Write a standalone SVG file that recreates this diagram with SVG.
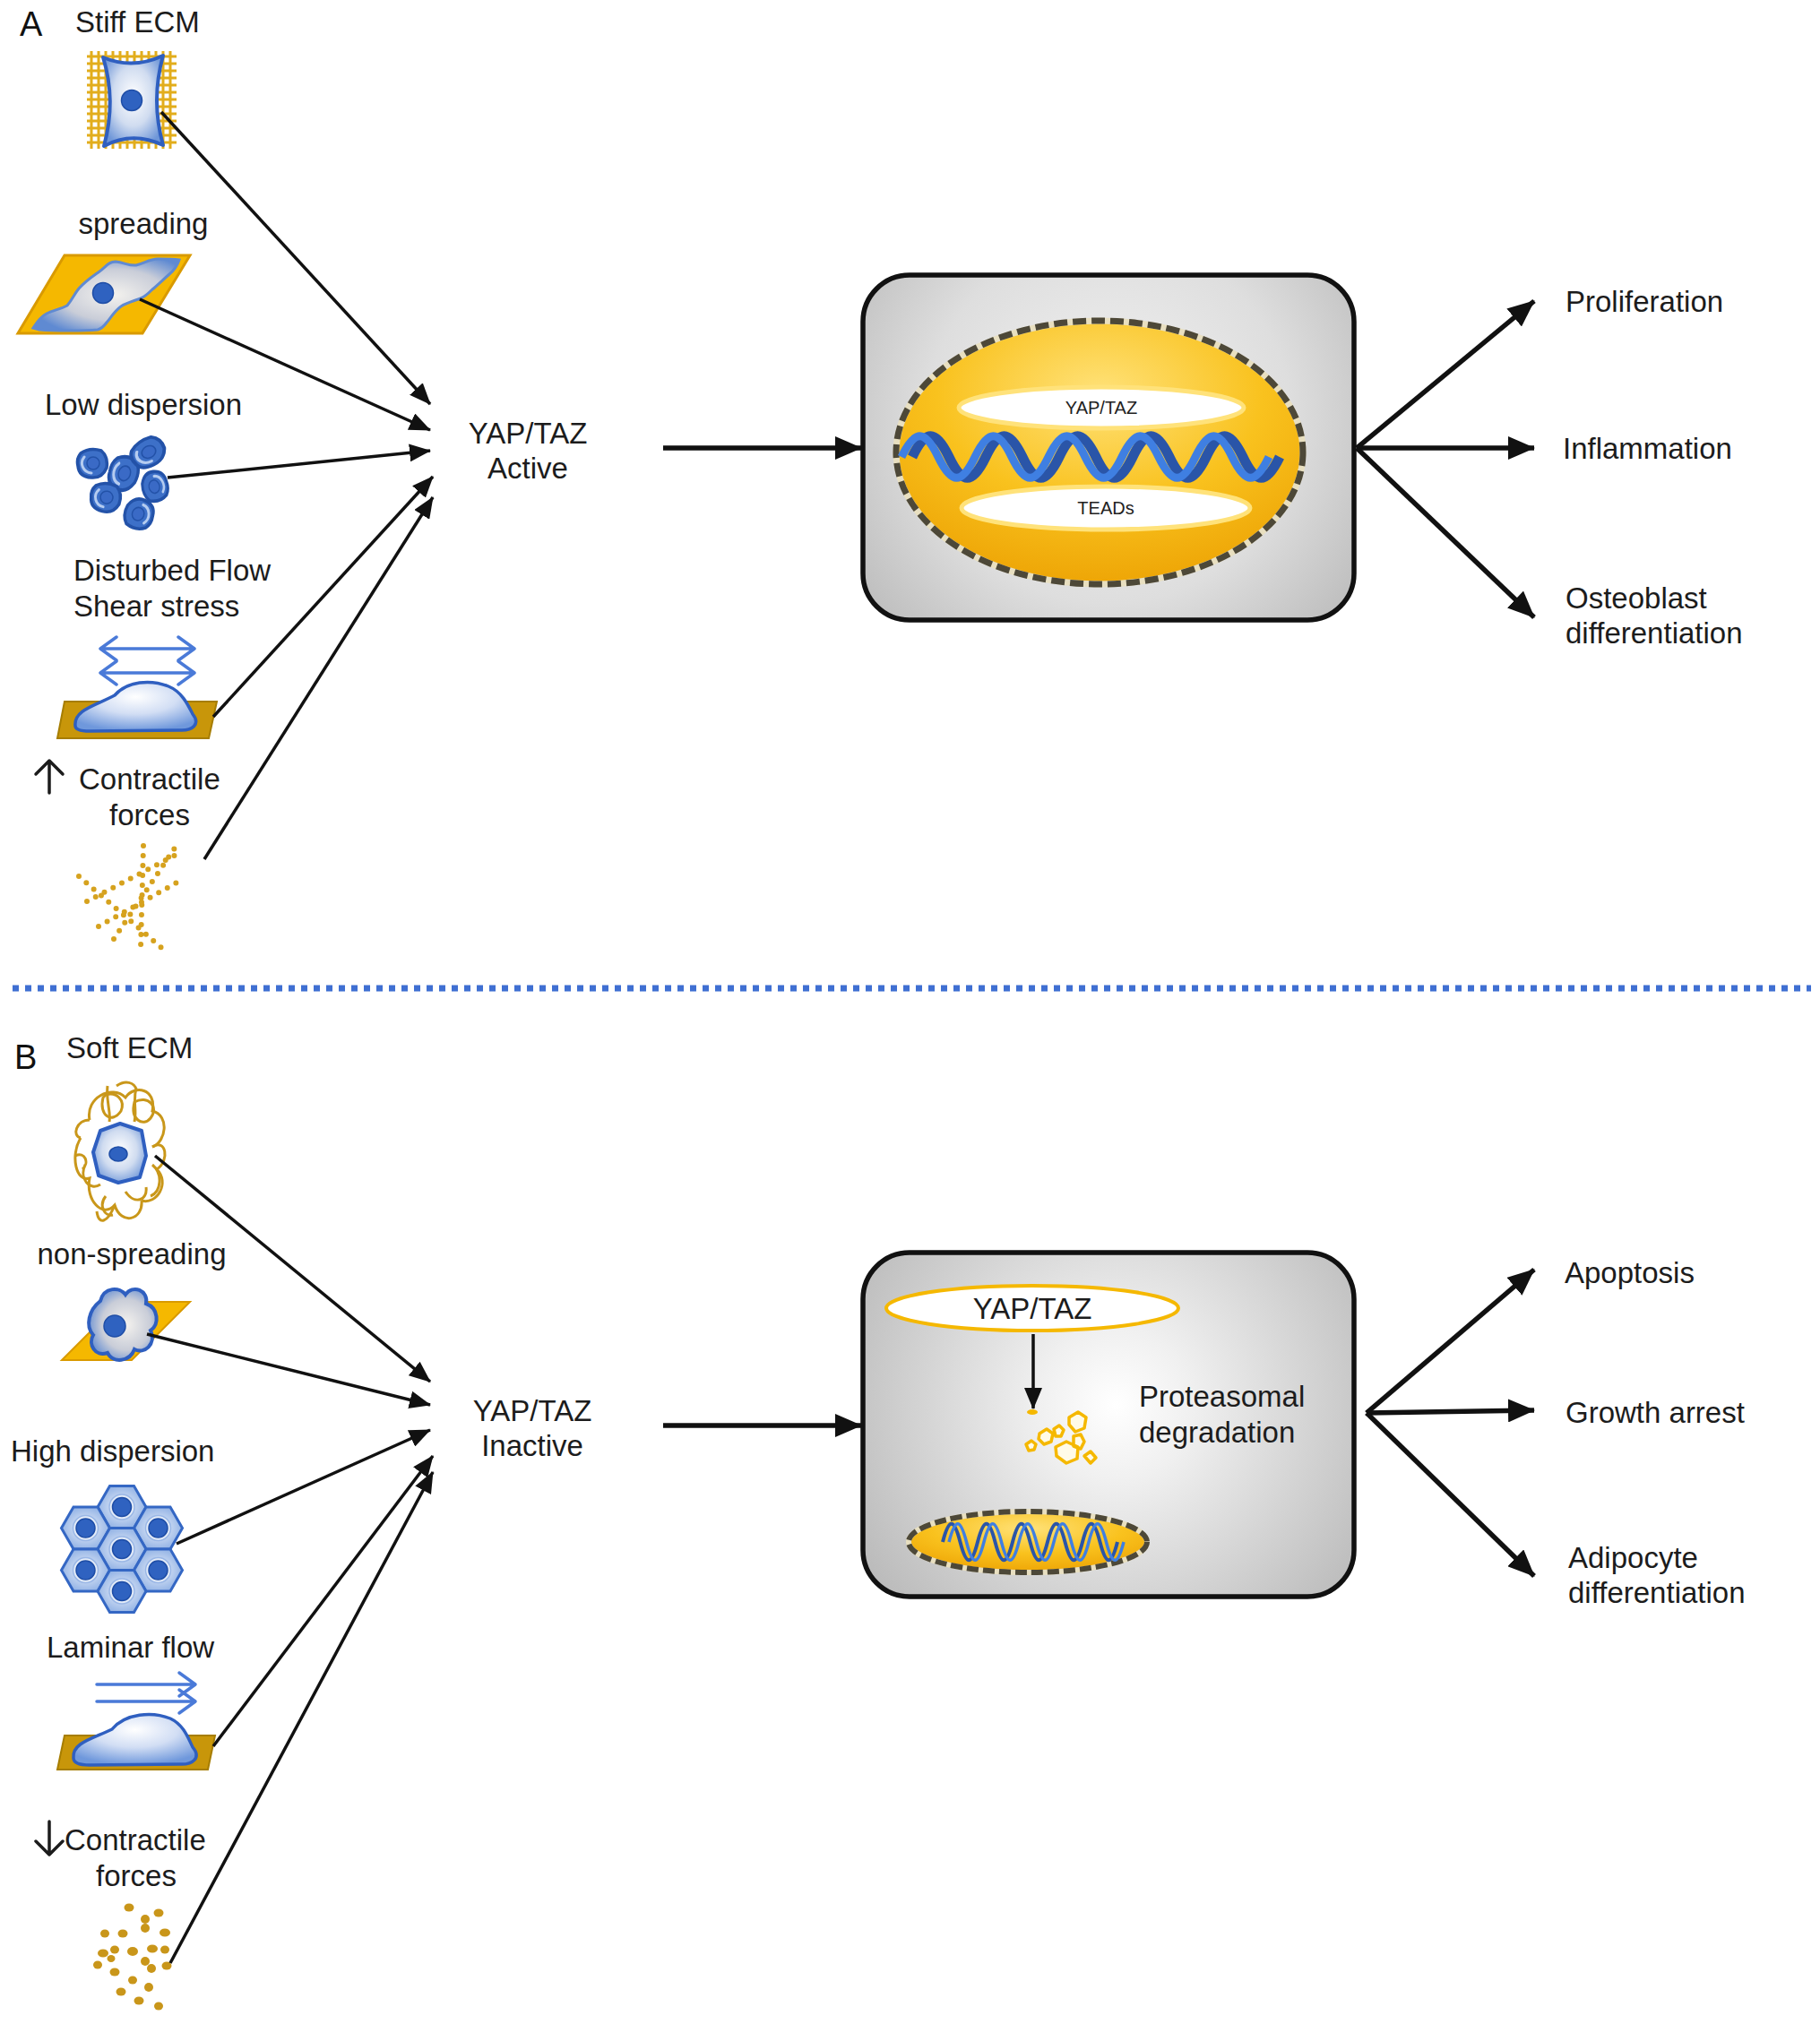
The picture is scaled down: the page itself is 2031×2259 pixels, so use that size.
<svg xmlns="http://www.w3.org/2000/svg" xmlns:xlink="http://www.w3.org/1999/xlink" width="2031" height="2259" viewBox="0 0 2031 2259">
<style>
.t{font-family:"Liberation Sans",Arial,sans-serif;font-size:33px;fill:#1c1c1c}
.ts{font-family:"Liberation Sans",Arial,sans-serif;font-size:20px;fill:#222}
.big{font-family:"Liberation Sans",Arial,sans-serif;font-size:38px;fill:#111}
.in{stroke:#111;stroke-width:3.5;fill:none;marker-end:url(#ah)}
.out{stroke:#111;stroke-width:5.5;fill:none;marker-end:url(#ahb)}
.box{stroke:#111;stroke-width:5.5}
.grid{stroke:#e2ad1c;stroke-width:3}
.flow{stroke:#4a7ad8;stroke-width:3.5;fill:none;stroke-linecap:round;stroke-linejoin:round}
.dots{stroke:#d6a21e;stroke-width:6;stroke-dasharray:0 11;stroke-linecap:round;fill:none}
.tangle{stroke:#c9971a;stroke-width:3;fill:none}
.frag{stroke:#f5b800;stroke-width:3.5;fill:#fffbe8;stroke-linejoin:round}
.nuc{fill:#2f62c0;stroke:#1e4da6;stroke-width:1.5}
.dna1{stroke:#2a55a8;fill:none}
.dna2{stroke:#3f7fe2;fill:none}
.blob{fill:#c9961a}
.sym{stroke:#1c1c1c;stroke-width:3.5;fill:none;stroke-linecap:round;stroke-linejoin:round}
</style>
<defs>
<marker id="ah" markerUnits="userSpaceOnUse" markerWidth="24" markerHeight="20" viewBox="0 0 24 20" refX="23" refY="10" orient="auto"><path d="M0,0 L24,10 L0,20 z" fill="#111"/></marker>
<marker id="ahb" markerUnits="userSpaceOnUse" markerWidth="30" markerHeight="26" viewBox="0 0 30 26" refX="29" refY="13" orient="auto"><path d="M0,0 L30,13 L0,26 z" fill="#111"/></marker>
<radialGradient id="gBoxA" gradientUnits="userSpaceOnUse" cx="1237" cy="470" r="340"><stop offset="0" stop-color="#f3f3f3"/><stop offset="0.6" stop-color="#dedede"/><stop offset="1" stop-color="#bdbdbd"/></radialGradient>
<radialGradient id="gBoxB" gradientUnits="userSpaceOnUse" cx="1245" cy="1568" r="340"><stop offset="0" stop-color="#ffffff"/><stop offset="0.25" stop-color="#f0f0f0"/><stop offset="1" stop-color="#b9b9b9"/></radialGradient>
<radialGradient id="gNuc" cx="0.5" cy="0.28" r="0.8"><stop offset="0" stop-color="#ffe27a"/><stop offset="0.5" stop-color="#f9c21e"/><stop offset="1" stop-color="#eb9e00"/></radialGradient>
<radialGradient id="gCell" cx="0.5" cy="0.45" r="0.6"><stop offset="0" stop-color="#ffffff"/><stop offset="0.55" stop-color="#d0dcf0"/><stop offset="1" stop-color="#6e96d8"/></radialGradient>
<radialGradient id="gCell2" cx="0.55" cy="0.5" r="0.6"><stop offset="0" stop-color="#f4f2ee"/><stop offset="0.6" stop-color="#c9cdd8"/><stop offset="1" stop-color="#5f8ad2"/></radialGradient>
<radialGradient id="gDome" cx="0.5" cy="0.3" r="0.7"><stop offset="0" stop-color="#ffffff"/><stop offset="0.5" stop-color="#d2def4"/><stop offset="1" stop-color="#6f98dc"/></radialGradient>
<radialGradient id="gHex" cx="0.5" cy="0.5" r="0.55"><stop offset="0" stop-color="#eef3fb"/><stop offset="1" stop-color="#8fb0e4"/></radialGradient>
<g id="hex"><polygon points="27,0 13.5,23.4 -13.5,23.4 -27,0 -13.5,-23.4 13.5,-23.4" fill="url(#gHex)" stroke="#3467c4" stroke-width="3"/><circle r="14" fill="#e4ecf8" stroke="#9ab7e6" stroke-width="1.5"/><circle r="10.5" class="nuc"/></g>
<g id="lc"><path d="M-13,-11 Q-3,-18 10,-14 Q18,-7 16,5 Q11,17 -1,16 Q-15,15 -16,3 Q-18,-5 -13,-11 Z" fill="#3d70c8" stroke="#2352a8" stroke-width="3.5" stroke-linejoin="round"/><path d="M-9,-7 A11,11 0 0 0 -1,11" stroke="#b5ccf0" stroke-width="3" fill="none" stroke-linecap="round"/><circle cx="1" cy="0" r="7" fill="#3a6ac6" stroke="#2352a8" stroke-width="1.5"/></g>
</defs>
<rect width="2031" height="2259" fill="#ffffff"/>

<!-- Panel A -->
<g id="labelA"><text class="big" x="22" y="40">A</text></g>

<g id="stiffECM">
<text class="t" x="84" y="36">Stiff ECM</text>
<path class="grid" d="M102,57V166M110,57V166M118,57V166M126,57V166M134,57V166M142,57V166M150,57V166M158,57V166M166,57V166M174,57V166M182,57V166M190,57V166"/>
<path class="grid" d="M97,63H197M97,71H197M97,79H197M97,87H197M97,95H197M97,103H197M97,111H197M97,119H197M97,127H197M97,135H197M97,143H197M97,151H197M97,159H197"/>
<path d="M115,64 Q148,78 182,62 Q168,112 182,162 Q148,146 116,163 Q130,112 115,64 Z" fill="url(#gCell)" stroke="#2f5fc0" stroke-width="4" stroke-linejoin="round"/>
<circle cx="147" cy="112" r="11.5" class="nuc"/>
</g>

<g id="spreading">
<text class="t" x="160" y="261" text-anchor="middle">spreading</text>
<polygon points="72,285 212,285 159,372 20,372" fill="#f5b800" stroke="#d99a00" stroke-width="3"/>
<path d="M37,366 C42,358 46,353 52,350 C60,346 68,345 75,341 C81,334 83,328 88,322 C96,313 104,308 111,303 C118,298 121,292 129,292 C139,293 144,297 152,296 C161,294 167,289 176,289 C185,289 192,289 200,290 C198,296 195,301 189,306 C181,313 175,319 170,323 C165,328 162,331 157,333 C149,336 141,338 135,342 C128,347 124,354 119,360 C116,364 113,367 109,368 C98,369 88,369 78,369 C66,369 55,369 44,368 Z" fill="url(#gCell2)" stroke="#5f8ad2" stroke-width="3"/>
<circle cx="115" cy="327" r="11.5" class="nuc"/>
</g>

<g id="lowDispersion">
<text class="t" x="160" y="463" text-anchor="middle">Low dispersion</text>
<use xlink:href="#lc" href="#lc" transform="translate(103,517)"/>
<use xlink:href="#lc" href="#lc" transform="translate(138,528) rotate(20) scale(0.95,1.2)"/>
<use xlink:href="#lc" href="#lc" transform="translate(165,505) rotate(-30) scale(1.15,0.95)"/>
<use xlink:href="#lc" href="#lc" transform="translate(173,543) rotate(170) scale(0.85,1.05)"/>
<use xlink:href="#lc" href="#lc" transform="translate(118,555) rotate(10)"/>
<use xlink:href="#lc" href="#lc" transform="translate(155,574) rotate(200) scale(0.95,1.05)"/>
</g>

<g id="disturbedFlow">
<text class="t" x="82" y="648">Disturbed Flow</text>
<text class="t" x="82" y="688">Shear stress</text>
<path class="flow" d="M112,724H217M130,711L112,724L130,737M199,711L217,724L199,737M112,751H217M130,738L112,751L130,764M199,738L217,751L199,764"/>
<polygon points="72,783 242,783 233,824 64,824" fill="#c8960a" stroke="#a67d00" stroke-width="2"/>
<path d="M84,810 C82,792 108,787 128,776 C142,760 168,758 188,766 C203,772 210,787 215,797 C224,808 215,816 200,815 L100,816 C90,816 84,814 84,810 Z" fill="url(#gDome)" stroke="#2f5fc0" stroke-width="3.5"/>
</g>

<g id="contractileUp">
<path class="sym" d="M55,885V849M40,864L55,849L70,864"/>
<text class="t" x="88" y="881">Contractile</text>
<text class="t" x="167" y="921" text-anchor="middle">forces</text>
<path class="dots" d="M160,944L157,1058M88,978L184,1061M97,1006L204,950M127,1048L198,942M110,1034L201,983"/>
</g>

<g id="yapActive">
<text class="t" x="589" y="495" text-anchor="middle">YAP/TAZ</text>
<text class="t" x="589" y="534" text-anchor="middle">Active</text>
</g>

<g id="nucleusBoxA">
<rect x="963" y="307" width="548" height="385" rx="52" fill="url(#gBoxA)" class="box"/>
<ellipse cx="1227" cy="505" rx="227" ry="147" fill="url(#gNuc)"/>
<ellipse cx="1227" cy="505" rx="227" ry="147" fill="none" stroke="#e8dfc0" stroke-width="7"/>
<ellipse cx="1227" cy="505" rx="227" ry="147" fill="none" stroke="#4d4838" stroke-width="7" stroke-dasharray="15 6"/>
<ellipse cx="1229" cy="455" rx="159" ry="23" fill="#ffffff" stroke="#ffe27a" stroke-width="5"/>
<ellipse cx="1234" cy="567" rx="161" ry="24" fill="#ffffff" stroke="#ffe27a" stroke-width="5"/>
<text class="ts" x="1229" y="462" text-anchor="middle">YAP/TAZ</text>
<text class="ts" x="1234" y="574" text-anchor="middle">TEADs</text>
<path class="dna1" stroke-width="11" d="M1018,510 C1033,479 1044,479 1059,510 S1085,541 1100,510 S1126,479 1141,510 S1167,541 1182,510 S1208,479 1223,510 S1249,541 1264,510 S1290,479 1305,510 S1331,541 1346,510 S1372,479 1387,510 S1413,541 1428,510"/>
<path class="dna2" stroke-width="9" d="M1006,510 C1021,479 1032,479 1047,510 S1073,541 1088,510 S1114,479 1129,510 S1155,541 1170,510 S1196,479 1211,510 S1237,541 1252,510 S1278,479 1293,510 S1319,541 1334,510 S1360,479 1375,510 S1401,541 1416,510"/>
</g>

<g id="outcomesA">
<text class="t" x="1747" y="348">Proliferation</text>
<text class="t" x="1744" y="512">Inflammation</text>
<text class="t" x="1747" y="679">Osteoblast</text>
<text class="t" x="1747" y="718">differentiation</text>
</g>

<!-- divider -->
<g id="divider"><line x1="14" y1="1103" x2="2021" y2="1103" stroke="#3f6fd2" stroke-width="7" stroke-dasharray="7 7"/></g>

<!-- Panel B -->
<g id="labelB"><text class="big" x="16" y="1193">B</text></g>

<g id="softECM">
<text class="t" x="74" y="1181">Soft ECM</text>
<path class="tangle" d="M100,1250 C95,1225 125,1210 140,1225 C150,1210 175,1215 170,1240 C190,1245 185,1275 170,1280"/>
<path class="tangle" d="M90,1270 C78,1290 85,1320 100,1315 C95,1340 115,1360 128,1345 C135,1368 160,1362 158,1340"/>
<path class="tangle" d="M158,1340 C175,1345 190,1320 175,1305 C190,1295 185,1270 170,1280"/>
<path class="tangle" d="M100,1250 C85,1250 80,1268 90,1270"/>
<path class="tangle" d="M115,1225 C110,1245 125,1255 135,1240 C140,1228 130,1218 118,1222 Z"/>
<path class="tangle" d="M150,1230 C165,1222 178,1235 168,1248 C160,1258 145,1250 150,1230 Z"/>
<path class="tangle" d="M95,1300 C88,1315 100,1330 112,1322 M140,1330 C150,1345 165,1340 163,1325 M128,1345 C120,1365 110,1368 108,1352 M120,1212 C118,1230 124,1240 122,1252 M152,1214 C148,1230 153,1240 150,1252 M170,1300 C182,1310 180,1330 168,1335 M84,1290 C95,1285 100,1298 92,1305 M130,1212 C140,1205 150,1208 152,1216 M118,1335 C110,1345 116,1358 126,1356"/>
<path d="M112,1262 L134,1254 L158,1262 L163,1290 L156,1314 L132,1320 L110,1312 L104,1286 Z" fill="url(#gCell)" stroke="#2f5fc0" stroke-width="4" stroke-linejoin="round"/>
<ellipse cx="132" cy="1288" rx="10" ry="8" class="nuc"/>
</g>

<g id="nonSpreading">
<text class="t" x="147" y="1411" text-anchor="middle">non-spreading</text>
<polygon points="134,1453 212,1453 147,1518 69,1518" fill="#f5b800" stroke="#d99a00" stroke-width="2"/>
<path d="M112,1452 C116,1436 134,1436 140,1445 C148,1433 166,1440 163,1455 C177,1460 178,1478 168,1485 C175,1500 161,1512 150,1506 C145,1520 126,1522 120,1510 C106,1515 98,1500 104,1490 C95,1480 99,1462 112,1452 Z" fill="url(#gCell2)" stroke="#2f5fc0" stroke-width="4"/>
<circle cx="128" cy="1480" r="12" class="nuc"/>
</g>

<g id="highDispersion">
<text class="t" x="12" y="1631">High dispersion</text>
<use xlink:href="#hex" href="#hex" x="136" y="1682"/>
<use xlink:href="#hex" href="#hex" x="95.5" y="1705.5"/>
<use xlink:href="#hex" href="#hex" x="176.5" y="1705.5"/>
<use xlink:href="#hex" href="#hex" x="136" y="1729"/>
<use xlink:href="#hex" href="#hex" x="95.5" y="1752.5"/>
<use xlink:href="#hex" href="#hex" x="176.5" y="1752.5"/>
<use xlink:href="#hex" href="#hex" x="136" y="1776"/>
</g>

<g id="laminarFlow">
<text class="t" x="52" y="1850">Laminar flow</text>
<path class="flow" d="M108,1880H218M200,1867L218,1880L200,1893M108,1899H218M200,1886L218,1899L200,1912"/>
<polygon points="72,1937 240,1937 232,1975 64,1975" fill="#c8960a" stroke="#a67d00" stroke-width="2"/>
<path d="M82,1962 C80,1945 105,1940 125,1930 C140,1912 170,1910 190,1918 C205,1925 210,1940 215,1950 C225,1962 215,1970 200,1969 L100,1970 C88,1970 82,1967 82,1962 Z" fill="url(#gDome)" stroke="#2f5fc0" stroke-width="3.5"/>
</g>

<g id="contractileDown">
<path class="sym" d="M55,2033V2070M40,2055L55,2070L70,2055"/>
<text class="t" x="72" y="2065">Contractile</text>
<text class="t" x="152" y="2105" text-anchor="middle">forces</text>
<g class="blob">
<ellipse cx="144" cy="2129" rx="5.5" ry="4.5"/><ellipse cx="177" cy="2135" rx="5.5" ry="4.5"/><ellipse cx="162" cy="2142" rx="5" ry="5"/><ellipse cx="162" cy="2152" rx="5" ry="5"/><ellipse cx="184" cy="2157" rx="6" ry="4.5"/><ellipse cx="117" cy="2158" rx="5" ry="4.5"/><ellipse cx="137" cy="2158" rx="5.5" ry="4.5"/><ellipse cx="115" cy="2180" rx="6" ry="4.5"/><ellipse cx="128" cy="2176" rx="5" ry="4.5"/><ellipse cx="148" cy="2178" rx="6" ry="5"/><ellipse cx="170" cy="2175" rx="6" ry="4.5"/><ellipse cx="184" cy="2176" rx="5" ry="4.5"/><ellipse cx="109" cy="2193" rx="5" ry="4.5"/><ellipse cx="128" cy="2201" rx="5.5" ry="4.5"/><ellipse cx="162" cy="2189" rx="5" ry="5"/><ellipse cx="169" cy="2197" rx="5" ry="5"/><ellipse cx="186" cy="2194" rx="5.5" ry="4.5"/><ellipse cx="148" cy="2210" rx="5" ry="4.5"/><ellipse cx="135" cy="2223" rx="5.5" ry="4.5"/><ellipse cx="166" cy="2218" rx="5" ry="5"/><ellipse cx="155" cy="2233" rx="5.5" ry="4.5"/><ellipse cx="177" cy="2239" rx="5" ry="4.5"/><ellipse cx="124" cy="2186" rx="4.5" ry="4"/>
</g>
</g>

<g id="yapInactive">
<text class="t" x="594" y="1586" text-anchor="middle">YAP/TAZ</text>
<text class="t" x="594" y="1625" text-anchor="middle">Inactive</text>
</g>

<g id="degradationBoxB">
<rect x="963" y="1398" width="548" height="384" rx="52" fill="url(#gBoxB)" class="box"/>
<ellipse cx="1152" cy="1460" rx="163" ry="25" fill="#ffffff" stroke="#f5b800" stroke-width="4"/>
<text class="t" x="1152" y="1472" text-anchor="middle">YAP/TAZ</text>
<line x1="1153" y1="1489" x2="1153" y2="1572" stroke="#111" stroke-width="3.5" marker-end="url(#ah)"/>
<ellipse cx="1152" cy="1576" rx="6" ry="3" fill="#f5b800"/>
<path class="frag" d="M1193,1582 l10,-6 l9,6 l-2,12 l-10,4 l-7,-8 z M1160,1600 l8,-5 l7,5 l-2,9 l-8,3 l-6,-6 z M1176,1595 l6,-4 l5,5 l-3,7 l-6,0 z M1198,1603 l8,-2 l4,8 l-4,8 l-8,-3 z M1178,1615 l12,-6 l13,6 l-1,13 l-12,5 l-11,-8 z M1210,1625 l7,-5 l6,7 l-6,6 z M1145,1612 l6,-4 l5,4 l-2,6 l-6,1 z"/>
<text class="t" x="1271" y="1570">Proteasomal</text>
<text class="t" x="1271" y="1610">degradation</text>
<ellipse cx="1147" cy="1721" rx="133" ry="34" fill="url(#gNuc)"/>
<ellipse cx="1147" cy="1721" rx="133" ry="34" fill="none" stroke="#e8dfc0" stroke-width="6"/>
<ellipse cx="1147" cy="1721" rx="133" ry="34" fill="none" stroke="#4d4838" stroke-width="6" stroke-dasharray="13 5"/>
<path class="dna1" stroke-width="4" d="M1052,1721 C1059,1694 1064.5,1694 1071.5,1721 S1084,1748 1091,1721 S1103.5,1694 1110.5,1721 S1123,1748 1130,1721 S1142.5,1694 1149.5,1721 S1162,1748 1169,1721 S1181.5,1694 1188.5,1721 S1201,1748 1208,1721 S1220.5,1694 1227.5,1721 S1240,1748 1247,1721"/>
<path class="dna2" stroke-width="3.5" d="M1059,1721 C1066,1694 1071.5,1694 1078.5,1721 S1091,1748 1098,1721 S1110.5,1694 1117.5,1721 S1130,1748 1137,1721 S1149.5,1694 1156.5,1721 S1169,1748 1176,1721 S1188.5,1694 1195.5,1721 S1208,1748 1215,1721 S1227.5,1694 1234.5,1721 S1247,1748 1254,1721"/>
</g>

<g id="outcomesB">
<text class="t" x="1746" y="1432">Apoptosis</text>
<text class="t" x="1747" y="1588">Growth arrest</text>
<text class="t" x="1750" y="1750">Adipocyte</text>
<text class="t" x="1750" y="1789">differentiation</text>
</g>

<g id="connectors">
<line class="in" x1="180" y1="125" x2="480" y2="451"/>
<line class="in" x1="156" y1="334" x2="480" y2="480"/>
<line class="in" x1="187" y1="533" x2="480" y2="503"/>
<line class="in" x1="238" y1="800" x2="483" y2="532"/>
<line class="in" x1="228" y1="959" x2="483" y2="555"/>
<line class="out" x1="740" y1="500" x2="961" y2="500"/>
<line class="out" x1="1514" y1="500" x2="1712" y2="336"/>
<line class="out" x1="1514" y1="500" x2="1712" y2="500"/>
<line class="out" x1="1514" y1="500" x2="1712" y2="689"/>
<line class="in" x1="173" y1="1290" x2="480" y2="1542"/>
<line class="in" x1="164" y1="1489" x2="480" y2="1568"/>
<line class="in" x1="197" y1="1723" x2="480" y2="1596"/>
<line class="in" x1="238" y1="1949" x2="483" y2="1625"/>
<line class="in" x1="190" y1="2191" x2="483" y2="1643"/>
<line class="out" x1="740" y1="1591" x2="961" y2="1591"/>
<line class="out" x1="1525" y1="1577" x2="1712" y2="1417"/>
<line class="out" x1="1525" y1="1577" x2="1712" y2="1574"/>
<line class="out" x1="1525" y1="1577" x2="1712" y2="1759"/>
</g>
</svg>
